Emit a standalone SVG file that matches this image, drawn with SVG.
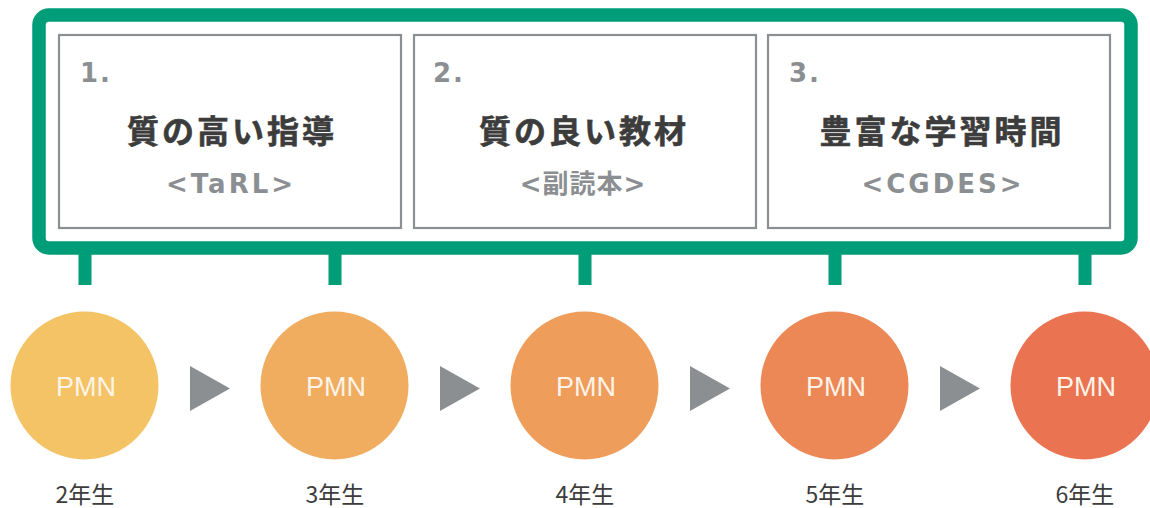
<svg xmlns="http://www.w3.org/2000/svg" width="1150" height="508" viewBox="0 0 1150 508">
<style>
.frame{fill:none;stroke:#009d79;stroke-width:13.5}
.leg{fill:#009d79}
.box{fill:#fff;stroke:#8b8f92;stroke-width:2.2}
.num{font-family:"DejaVu Sans","Noto Sans CJK JP",sans-serif;font-weight:700;font-size:26px;fill:#8b8f92;letter-spacing:2px}
.title{font-family:"Noto Sans CJK JP",sans-serif;font-weight:700;font-size:32px;fill:#3c3c3c;letter-spacing:3px;text-anchor:middle;stroke:#3c3c3c;stroke-width:0.6}
.sub{font-family:"DejaVu Sans","Noto Sans CJK JP",sans-serif;font-weight:700;font-size:26px;fill:#8b8f92;letter-spacing:3px;text-anchor:middle}
.pmn{font-family:"Liberation Sans",Arial,sans-serif;font-size:27px;fill:#fdf3e8;text-anchor:middle}
.year{font-family:"Noto Sans CJK JP",sans-serif;font-size:23px;fill:#3c3c3c;text-anchor:middle}
.arrow{fill:#8b8f92}
</style>
<g id="frame">
<rect class="frame" x="39" y="15" width="1092" height="233" rx="10"/>
<rect class="leg" x="78.5" y="250" width="13" height="35"/>
<rect class="leg" x="328.5" y="250" width="13" height="35"/>
<rect class="leg" x="578.5" y="250" width="13" height="35"/>
<rect class="leg" x="828.5" y="250" width="13" height="35"/>
<rect class="leg" x="1078.5" y="250" width="13" height="35"/>
</g>
<g id="box1">
<rect class="box" x="59" y="35" width="342" height="193"/>
<text class="num" x="80" y="82">1.</text>
<text class="title" x="232" y="143">質の高い指導</text>
<text class="sub" x="231" y="193">&lt;TaRL&gt;</text>
</g>
<g id="box2">
<rect class="box" x="414" y="35" width="342" height="193"/>
<text class="num" x="433" y="82">2.</text>
<text class="title" x="584" y="143">質の良い教材</text>
<text class="sub" x="583" y="193" style="letter-spacing:1px">&lt;副読本&gt;</text>
</g>
<g id="box3">
<rect class="box" x="768" y="35" width="342" height="193"/>
<text class="num" x="789" y="82">3.</text>
<text class="title" x="942" y="143">豊富な学習時間</text>
<text class="sub" x="943" y="193">&lt;CGDES&gt;</text>
</g>
<g id="grade2">
<circle cx="84.5" cy="385.5" r="74" fill="#f3c366"/>
<text class="pmn" x="86" y="396">PMN</text>
<text class="year" x="85" y="503">2年生</text>
</g>
<g id="grade3">
<circle cx="334.5" cy="385.5" r="74" fill="#f0ad60"/>
<text class="pmn" x="336" y="396">PMN</text>
<text class="year" x="335" y="503">3年生</text>
</g>
<g id="grade4">
<circle cx="584.5" cy="385.5" r="74" fill="#ef9d5a"/>
<text class="pmn" x="586" y="396">PMN</text>
<text class="year" x="585" y="503">4年生</text>
</g>
<g id="grade5">
<circle cx="834.5" cy="385.5" r="74" fill="#ec8756"/>
<text class="pmn" x="836" y="396">PMN</text>
<text class="year" x="835" y="503">5年生</text>
</g>
<g id="grade6">
<circle cx="1084.5" cy="385.5" r="74" fill="#ea7352"/>
<text class="pmn" x="1086" y="396">PMN</text>
<text class="year" x="1085" y="503">6年生</text>
</g>
<g id="connectors">
<polygon class="arrow" points="190,366 230,388.5 190,411"/>
<polygon class="arrow" points="440,366 480,388.5 440,411"/>
<polygon class="arrow" points="690,366 730,388.5 690,411"/>
<polygon class="arrow" points="940,366 980,388.5 940,411"/>
</g>
</svg>
